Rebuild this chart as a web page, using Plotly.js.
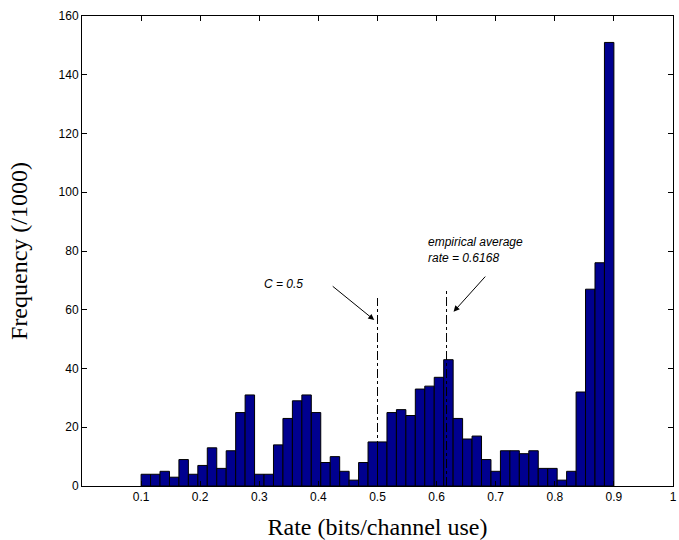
<!DOCTYPE html>
<html>
<head>
<meta charset="utf-8">
<script src="https://cdn.plot.ly/plotly-3.0.1.min.js"></script>
<style>html,body{margin:0;padding:0;background:#fff;}#chart{width:679px;height:540px;}</style>
</head>
<body>
<div id="chart"></div>
<script>
// Histogram bin centers (bin width 0.016, from 0.1 to 0.9)
const binCenters = [0.108, 0.124, 0.14, 0.156, 0.172, 0.188, 0.204, 0.22, 0.236, 0.252,
  0.268, 0.284, 0.3, 0.316, 0.332, 0.348, 0.364, 0.38, 0.396, 0.412,
  0.428, 0.444, 0.46, 0.476, 0.492, 0.508, 0.524, 0.54, 0.556, 0.572,
  0.588, 0.604, 0.62, 0.636, 0.652, 0.668, 0.684, 0.7, 0.716, 0.732,
  0.748, 0.764, 0.78, 0.796, 0.812, 0.828, 0.844, 0.86, 0.876, 0.892];
const frequency = [4, 4, 5, 3, 9, 4, 7, 13, 6, 12,
  25, 31, 4, 4, 14, 23, 29, 31, 25, 8,
  10, 5, 2, 8, 15, 15, 25, 26, 24, 33,
  34, 37, 43, 23, 16, 17, 9, 5, 12, 12,
  11, 12, 6, 6, 2, 5, 32, 67, 76, 151];
const binWidth = 0.016;

// Reference lines
const capacityX = [0.5, 0.5];
const capacityY = [0, 64];
const avgX = [0.6168, 0.6168];
const avgY = [0, 67];

const xTickVals = [0.1, 0.2, 0.3, 0.4, 0.5, 0.6, 0.7, 0.8, 0.9, 1];
const xTickText = ['0.1', '0.2', '0.3', '0.4', '0.5', '0.6', '0.7', '0.8', '0.9', '1'];
const yTickVals = [0, 20, 40, 60, 80, 100, 120, 140, 160];

const traces = [
  {
    type: 'bar', x: binCenters, y: frequency,
    width: binCenters.map(() => binWidth),
    marker: {color: '#00008F', line: {color: '#000000', width: 1}},
    hoverinfo: 'x+y', showlegend: false
  },
  {
    type: 'scatter', mode: 'lines', x: capacityX, y: capacityY,
    line: {color: '#000000', width: 1, dash: 'dashdot'}, showlegend: false
  },
  {
    type: 'scatter', mode: 'lines', x: avgX, y: avgY,
    line: {color: '#000000', width: 1, dash: 'dashdot'}, showlegend: false
  }
];

const annFont = {family: 'Liberation Sans, Arial, sans-serif', size: 12, color: '#000'};
const layout = {
  width: 679, height: 540,
  margin: {l: 82, r: 6, t: 16, b: 54},
  paper_bgcolor: '#ffffff', plot_bgcolor: '#ffffff',
  bargap: 0,
  showlegend: false,
  xaxis: {
    range: [0, 1], tickvals: xTickVals, ticktext: xTickText,
    ticks: 'inside', ticklen: 5, tickcolor: '#000', tickwidth: 1,
    showline: true, linecolor: '#000', linewidth: 1, mirror: 'ticks',
    showgrid: false, zeroline: false, ticklabeloverflow: 'allow',
    tickfont: {family: 'Liberation Sans, Arial, sans-serif', size: 12, color: '#000'},
    title: {text: 'Rate (bits/channel use)', font: {family: 'Liberation Serif, Times New Roman, serif', size: 24, color: '#000'}, standoff: 16}
  },
  yaxis: {
    range: [0, 160], tickvals: yTickVals,
    ticks: 'inside', ticklen: 5, tickcolor: '#000', tickwidth: 1,
    showline: true, linecolor: '#000', linewidth: 1, mirror: 'ticks',
    showgrid: false, zeroline: false,
    tickfont: {family: 'Liberation Sans, Arial, sans-serif', size: 12, color: '#000'},
    title: {text: 'Frequency (/1000)', font: {family: 'Liberation Serif, Times New Roman, serif', size: 24, color: '#000'}, standoff: 24}
  },
  annotations: [
    {x: 0.3406, y: 68.8, xref: 'x', yref: 'y', text: '<i>C = 0.5</i>', showarrow: false,
     font: annFont, xanchor: 'center', yanchor: 'middle'},
    {x: 0.5817, y: 80.3, xref: 'x', yref: 'y', text: '<i>empirical average</i><br><i>rate = 0.6168</i>',
     showarrow: false, font: annFont, xanchor: 'left', yanchor: 'middle', align: 'left'},
    {x: 0.4945, y: 56.5, ax: 0.4217, ay: 68.4, xref: 'x', yref: 'y', axref: 'x', ayref: 'y',
     text: '', showarrow: true, arrowhead: 2, arrowsize: 1.2, arrowwidth: 1, arrowcolor: '#000', standoff: 0, startstandoff: 0},
    {x: 0.6287, y: 59.3, ax: 0.6846, ay: 71.8, xref: 'x', yref: 'y', axref: 'x', ayref: 'y',
     text: '', showarrow: true, arrowhead: 2, arrowsize: 1.2, arrowwidth: 1, arrowcolor: '#000', standoff: 0, startstandoff: 0}
  ]
};

Plotly.newPlot('chart', traces, layout, {staticPlot: true, displayModeBar: false});
</script>
</body>
</html>
